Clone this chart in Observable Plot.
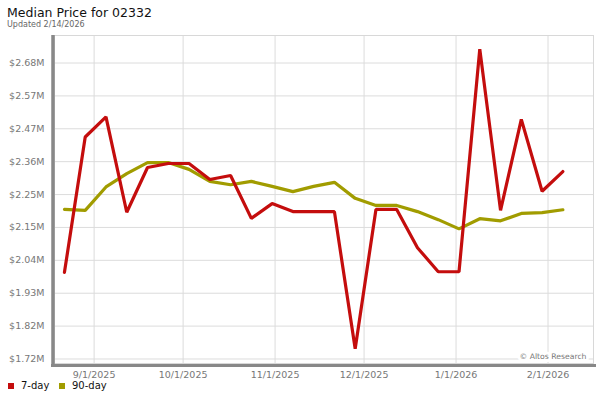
<!DOCTYPE html>
<html>
<head>
<meta charset="utf-8">
<script src="https://cdn.jsdelivr.net/npm/d3@7"></script>
<script src="https://cdn.jsdelivr.net/npm/@observablehq/plot@0.6"></script>
<style>
  html, body { margin: 0; padding: 0; background: #fff; }
  body { width: 600px; height: 400px; overflow: hidden; font-family: "DejaVu Sans", sans-serif; }
  #header { position: relative; height: 30px; }
  #title { position: absolute; left: 7px; top: 7px; font-size: 12.5px; line-height: 12px; color: #111; white-space: nowrap; }
  #subtitle { position: absolute; left: 7px; top: 20px; font-size: 8px; line-height: 9px; color: #666; white-space: nowrap; }
  #legend { position: relative; height: 14px; font-size: 10px; color: #111; }
  .sw { position: absolute; top: 3px; width: 6px; height: 6px; }
  .lab { position: absolute; top: 0px; line-height: 12px; white-space: nowrap; }
  svg { display: block; }
</style>
</head>
<body>
<div id="header">
  <div id="title">Median Price for 02332</div>
  <div id="subtitle">Updated 2/14/2026</div>
</div>
<div id="chart"></div>
<div id="legend"></div>
<script>
// Weekly observation dates
const dates = ["2025-08-22","2025-08-29","2025-09-05","2025-09-12","2025-09-19","2025-09-26",
  "2025-10-03","2025-10-10","2025-10-17","2025-10-24","2025-10-31","2025-11-07","2025-11-14",
  "2025-11-21","2025-11-28","2025-12-05","2025-12-12","2025-12-19","2025-12-26","2026-01-02",
  "2026-01-09","2026-01-16","2026-01-23","2026-01-30","2026-02-06"];
// Median price, millions of dollars
const sevenDay = [2.001, 2.440, 2.505, 2.196, 2.341, 2.354, 2.354, 2.302, 2.315, 2.176, 2.224, 2.198, 2.198,
  2.198, 1.753, 2.205, 2.205, 2.081, 2.003, 2.003, 2.725, 2.202, 2.497, 2.264, 2.328];
const ninetyDay = [2.205, 2.202, 2.278, 2.321, 2.357, 2.357, 2.335, 2.296, 2.285, 2.296, 2.280, 2.263, 2.280,
  2.293, 2.241, 2.218, 2.218, 2.198, 2.172, 2.142, 2.175, 2.168, 2.192, 2.195, 2.204];
const seriesNames = ["7-day", "90-day"];
const seriesColors = ["#c40d0d", "#a19c00"];
const yTicks = [1.72, 1.8267, 1.9333, 2.04, 2.1467, 2.2533, 2.36, 2.4667, 2.5733, 2.68];
const yTickLabels = ["$1.72M","$1.82M","$1.93M","$2.04M","$2.15M","$2.25M","$2.36M","$2.47M","$2.57M","$2.68M"];
const xTicks = ["2025-09-01","2025-10-01","2025-11-01","2025-12-01","2026-01-01","2026-02-01"];
const xTickLabels = ["9/1/2025","10/1/2025","11/1/2025","12/1/2025","1/1/2026","2/1/2026"];
const watermark = "© Altos Research";

const rows = [];
dates.forEach((d, i) => {
  rows.push({date: new Date(d), value: sevenDay[i], series: seriesNames[0]});
  rows.push({date: new Date(d), value: ninetyDay[i], series: seriesNames[1]});
});
const xTickDates = xTicks.map(d => new Date(d));
const xLabelMap = new Map(xTickDates.map((d, i) => [+d, xTickLabels[i]]));
const yLabelMap = new Map(yTicks.map((v, i) => [v, yTickLabels[i]]));
const xDomain = [new Date("2025-08-18T15:30Z"), new Date("2026-02-16T08:00Z")];
const yDomain = [1.7054, 2.7692];

const chart = Plot.plot({
  width: 600,
  height: 350,
  marginLeft: 54,
  marginRight: 7,
  marginTop: 5,
  marginBottom: 17,
  style: {fontFamily: "DejaVu Sans, sans-serif", background: "#fff", overflow: "visible"},
  x: {type: "utc", domain: xDomain},
  y: {domain: yDomain},
  color: {domain: seriesNames, range: seriesColors},
  marks: [
    Plot.gridY(yTicks, {stroke: "#dcdcdc", strokeOpacity: 1}),
    Plot.gridX(xTickDates, {stroke: "#dcdcdc", strokeOpacity: 1}),
    Plot.frame({stroke: "#d8d8d8"}),
    Plot.text([watermark], {frameAnchor: "bottom-right", text: d => d, dx: -7, dy: -5, fontSize: 7.7,
      fill: "#777", stroke: "white", strokeWidth: 6, paintOrder: "stroke", textAnchor: "end", lineAnchor: "bottom"}),
    Plot.line(rows.filter(r => r.series === seriesNames[1]), {x: "date", y: "value", stroke: "series",
      strokeWidth: 3.2, strokeLinejoin: "miter"}),
    Plot.line(rows.filter(r => r.series === seriesNames[0]), {x: "date", y: "value", stroke: "series",
      strokeWidth: 3.2, strokeLinejoin: "miter"}),
    Plot.ruleX([xDomain[0]], {stroke: "#888", strokeWidth: 3.5, dx: -1.5, insetBottom: -4}),
    Plot.ruleY([yDomain[0]], {stroke: "#888", strokeWidth: 3, dy: 2, insetLeft: -3, insetRight: -3}),
    Plot.axisY(yTicks, {tickSize: 0, tickPadding: 10, fontSize: 9.5, fill: "#777",
      tickFormat: v => yLabelMap.get(v), label: null}),
    Plot.axisX(xTickDates, {tickSize: 0, tickPadding: 8, fontSize: 9.5, fill: "#777",
      tickFormat: d => xLabelMap.get(+d), label: null})
  ]
});
document.getElementById("chart").appendChild(chart);

const legend = document.getElementById("legend");
const swX = [8, 59];
const labX = [21, 72];
seriesNames.forEach((name, i) => {
  const s = document.createElement("div");
  s.className = "sw"; s.style.left = swX[i] + "px"; s.style.background = seriesColors[i];
  legend.appendChild(s);
  const t = document.createElement("div");
  t.className = "lab"; t.style.left = labX[i] + "px"; t.textContent = name;
  legend.appendChild(t);
});
</script>
</body>
</html>
